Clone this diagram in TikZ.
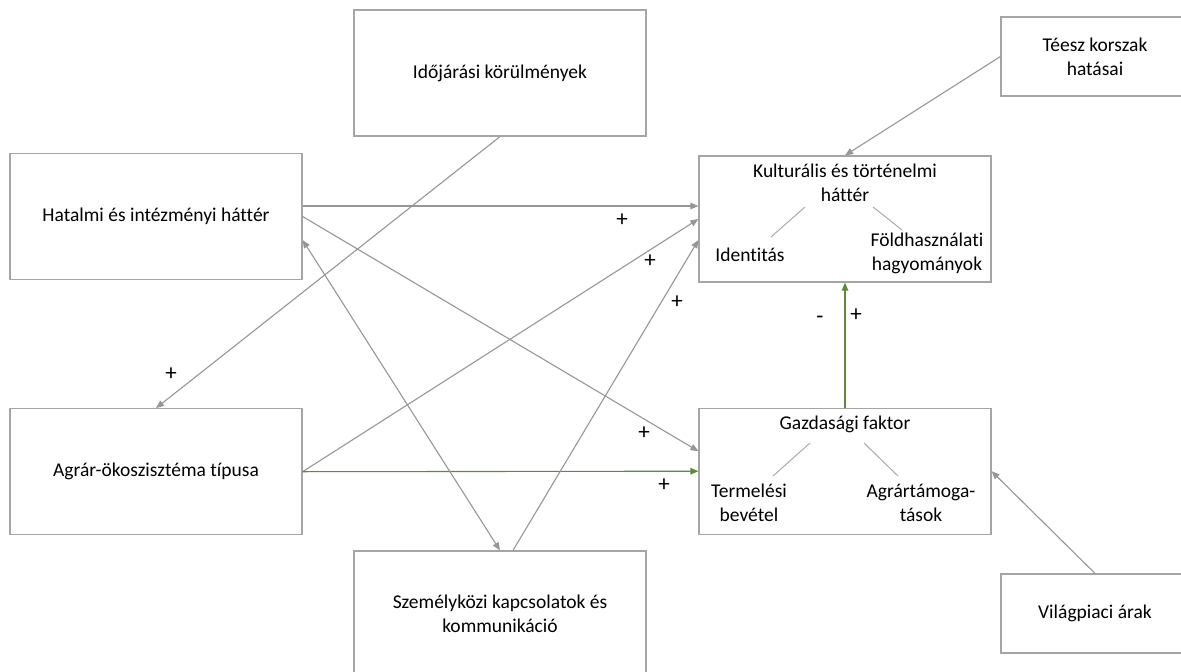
\documentclass[tikz,border=0pt]{standalone}
\usepackage{fontspec}
\setmainfont{Carlito}[Ligatures=NoCommon]
\usetikzlibrary{arrows.meta, positioning}
\definecolor{grn}{RGB}{94,138,62}
\definecolor{ln}{RGB}{150,150,150}
\definecolor{bx}{RGB}{165,165,165}
\begin{document}
\begin{tikzpicture}[x=1pt, y=-1pt, font=\fontsize{19.5}{24}\selectfont,
        n/.style={draw=bx, line width=1.2pt, minimum width=292pt, minimum height=126pt, inner sep=0pt, align=center},
        n2/.style={n, minimum width=188pt, minimum height=79pt},
        lb/.style={inner sep=0pt, align=center},
        sg/.style={inner sep=0pt, font=\fontsize{23}{24}\selectfont},
        e/.style={-{Triangle[length=8pt, width=6.5pt]}, draw=ln, line width=1.1pt},
        e2/.style={{Triangle[length=8pt, width=6.5pt]}-{Triangle[length=8pt, width=6.5pt]}, draw=ln, line width=1.1pt},
        g/.style={-{Triangle[length=8pt, width=6.5pt]}, draw=grn, line width=1.1pt},
        s/.style={draw=ln!80, line width=1pt}]
        \useasboundingbox (0,0) rectangle (1181,672);

        \node[n] (hat) at (156,216.5) {Hatalmi és intézményi háttér};
        \node[n, below=128pt of hat] (agr) {Agrár-ökoszisztéma típusa};
        \node[n] (kult) at (845,219) {};
        \node[n, below=125pt of kult] (gazd) {};
        \node[n] (ido) at (500,73) {Időjárási körülmények};
        \node[n] (szem) at (500,614) {Személyközi kapcsolatok és\\kommunikáció};
        \node[n2] (teesz) at (1095,56.5) {Téesz korszak\\hatásai};
        \node[n2] (vil) at (1095,613.5) {Világpiaci árak};

        \node[lb] (ktit) at (845,183) {Kulturális és történelmi\\háttér};
        \node[lb] (ident) at (750,255) {Identitás};
        \node[lb] (fold) at (927,253) {Földhasználati\\hagyományok};
        \node[lb] (gtit) at (845,424) {Gazdasági faktor};
        \node[lb] (term) at (749,503) {Termelési\\bevétel};
        \node[lb] (agrt) at (921,503) {Agrártámoga-\\tások};

        \foreach \c/\x/\y in {k1/805/207, k2/771/237, k3/873/207, k4/902/230,
                g1/810/443, g2/773/476, g3/864/443, g4/898/476}
        \coordinate (\c) at (\x,\y);
        \draw[s] (k1) -- (k2);
        \draw[s] (k3) -- (k4);
        \draw[s] (g1) -- (g2);
        \draw[s] (g3) -- (g4);

        \draw[e] (ido.south) -- (agr.north);
        \draw[e] (teesz.west) -- (kult.north);
        \draw[e] ([yshift=10.5pt]hat.east) -- ([yshift=13pt]kult.west);
        \draw[e] (hat.east) -- ([yshift=20pt]gazd.west);
        \draw[e] (agr.east) -- (kult.west);
        \draw[g] (agr.east) -- (gazd.west);
        \draw[e2] ([yshift=-23.5pt]hat.east) -- (szem.north);
        \draw[e] ([xshift=13pt]szem.north) -- ([yshift=-21pt]kult.west);
        \draw[g] (gazd.north) -- (kult.south);
        \draw[e] (vil.north) -- (gazd.east);

        \foreach \x/\y/\t in {622/220/+, 650/261/+, 677/302/+, 171/374/+,
                644/433/+, 664/485/+, 820/320/-, 856/315/+}
        \node[sg] at (\x,\y) {\t};
\end{tikzpicture}
\end{document}
